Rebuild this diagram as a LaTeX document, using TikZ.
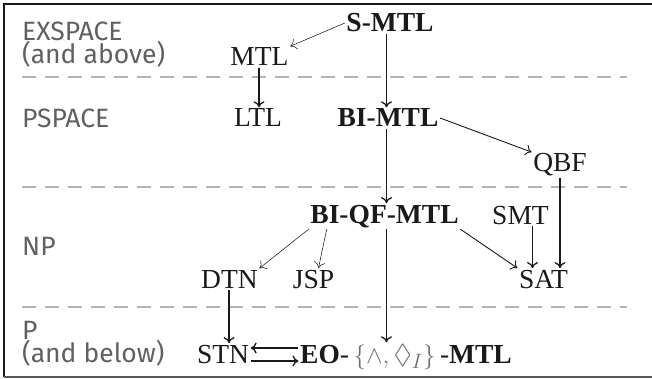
\documentclass[tikz,border=0pt]{standalone}
\usepackage{fontspec}
\usepackage{amssymb}
\setmainfont{Liberation Serif}
\newfontfamily\classfont{Fira Sans}
\usetikzlibrary{arrows.meta}
\definecolor{classgray}{HTML}{606060}
\definecolor{sepgray}{HTML}{B4B4B4}
\definecolor{mathgray}{HTML}{6E6E6E}
\definecolor{ink}{HTML}{1A1A1A}
\tikzset{
  logic/.style={anchor=base, inner sep=1.5pt, text=ink, font=\fontsize{27.5}{29}\selectfont},
  classlabel/.style={anchor=base west, inner sep=0pt, align=left, text=classgray, font=\classfont\fontsize{26.5}{22.5}\selectfont},
  separator/.style={sepgray, line width=1.5pt, dash pattern=on 14pt off 9pt},
  red1/.style={draw=ink, line width=1.3pt, -{Computer Modern Rightarrow[length=6pt,width=11pt]}},
  red2/.style={draw=ink, line width=0.9pt, -{Computer Modern Rightarrow[length=6pt,width=11pt]}},
  red3/.style={draw=ink, line width=0.55pt, -{Computer Modern Rightarrow[length=6pt,width=11pt]}},
}
\begin{document}
\begin{tikzpicture}[x=1pt, y=-1pt]
  \useasboundingbox (0,0) rectangle (652,379);
  % frame
  \draw[ink, line width=1.3pt] (652,4) -- (4,4) -- (4,377);
  \draw[black!65, line width=2pt] (4,377) -- (652,377);
  % class separators
  \draw[separator] (22,77) -- (627,77);
  \draw[separator] (22,187) -- (627,187);
  \draw[separator] (22,307) -- (627,307);
  % complexity classes (anchored at the baseline of the last line)
  \node[classlabel] (exsp) at (22,64) {EXSPACE\\(and above)};
  \node[classlabel] (psp) at (22,128) {PSPACE};
  \node[classlabel] (np) at (22,255) {NP};
  \node[classlabel] (ptime) at (22,362) {P\\(and below)};
  % logics and problems
  \node[logic] (smtl) at (390,32) {\textbf{S-MTL}};
  \node[logic] (mtl) at (259.5,66) {MTL};
  \node[logic] (ltl) at (258,127) {LTL};
  \node[logic] (bimtl) at (388,127) {\textbf{BI-MTL}};
  \node[logic] (qbf) at (560,172) {QBF};
  \node[logic] (bqf) at (384.5,223) {\textbf{BI-QF-MTL}};
  \node[logic] (smt) at (520.5,224) {SMT};
  \node[logic] (dtn) at (229.5,288) {DTN};
  \node[logic] (jsp) at (313.5,288) {JSP};
  \node[logic] (sat) at (543.5,288) {SAT};
  \node[logic] (stn) at (223,363) {STN};
  \node[logic] (eo) at (406,363) {\textbf{EO}-\,\textcolor{mathgray}{$\{\wedge,\lozenge_{I}\}$}\,-\textbf{MTL}};
  % vertical columns of the reductions
  \coordinate (cA) at (386.5,0);
  \coordinate (cB) at (259,0);
  \coordinate (cC) at (560,0);
  \coordinate (cD) at (532.5,0);
  \coordinate (cE) at (229,0);
  \coordinate (rU) at (0,348);
  \coordinate (rL) at (0,361);
  % reductions
  \draw[red3] (smtl.west) -- (mtl.north east);
  \draw[red1] (smtl.south -| cA) -- (bimtl.north -| cA);
  \draw[red1] (mtl.south -| cB) -- (ltl.north -| cB);
  \draw[red2] (bimtl.east) -- (qbf.north west);
  \draw[red1] (bimtl.south -| cA) -- (bqf.north -| cA);
  \draw[red1] (qbf.south -| cC) -- (sat.north -| cC);
  \draw[red3] (bqf.south west) -- (dtn.north east);
  \draw[red3] ([xshift=18pt]bqf.south west) -- ([xshift=5pt]jsp.north);
  \draw[red2] (bqf.south east) -- (sat.north west);
  \draw[red1] (smt.south -| cD) -- (sat.north -| cD);
  \draw[red1] (bqf.south -| cA) -- (eo.north -| cA);
  \draw[red1] (dtn.south -| cE) -- (stn.north -| cE);
  \draw[red1] (eo.west |- rU) -- (stn.east |- rU);
  \draw[red1] (stn.east |- rL) -- (eo.west |- rL);
\end{tikzpicture}
\end{document}
